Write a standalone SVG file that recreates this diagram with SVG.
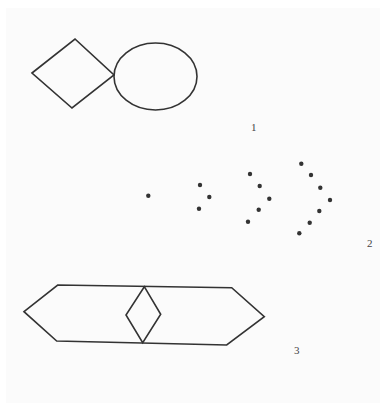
<svg xmlns="http://www.w3.org/2000/svg" width="380" height="412" viewBox="0 0 380 412">
  <style>
    .shape { fill: none; stroke: #333; stroke-width: 1.6; stroke-linejoin: miter; }
    .dot { fill: #333; }
    .label { font-family: "Liberation Serif", serif; font-size: 11px; fill: #444; }
  </style>
  <rect x="0" y="0" width="380" height="412" fill="#ffffff"/>
  <rect x="6" y="8" width="374" height="395" fill="#fbfbfb"/>
  <g id="figure1">
    <polygon class="shape" points="32,73 75,39 114,75 72,108"/>
    <ellipse class="shape" cx="155.5" cy="76.5" rx="41.5" ry="33.5"/>
    <text class="label" x="251" y="131">1</text>
  </g>
  <g id="figure2">
    <circle class="dot" cx="148.3" cy="195.7" r="2.2"/>
    <circle class="dot" cx="200" cy="185" r="2.2"/>
    <circle class="dot" cx="209.3" cy="197" r="2.2"/>
    <circle class="dot" cx="199" cy="208.7" r="2.2"/>
    <circle class="dot" cx="250" cy="174" r="2.2"/>
    <circle class="dot" cx="259.7" cy="186" r="2.2"/>
    <circle class="dot" cx="269.3" cy="198.7" r="2.2"/>
    <circle class="dot" cx="258.7" cy="209.7" r="2.2"/>
    <circle class="dot" cx="248" cy="221.7" r="2.2"/>
    <circle class="dot" cx="301.3" cy="163.7" r="2.2"/>
    <circle class="dot" cx="311" cy="175" r="2.2"/>
    <circle class="dot" cx="320.3" cy="187.7" r="2.2"/>
    <circle class="dot" cx="330" cy="200" r="2.2"/>
    <circle class="dot" cx="319.3" cy="211" r="2.2"/>
    <circle class="dot" cx="309.7" cy="222.7" r="2.2"/>
    <circle class="dot" cx="299.3" cy="233.3" r="2.2"/>
    <text class="label" x="367" y="247">2</text>
  </g>
  <g id="figure3">
    <polygon class="shape" points="24,311.7 57.7,285 231.7,287.7 264.3,316.7 226.7,345 56.7,341"/>
    <polygon class="shape" points="144.3,286.7 160.7,314.3 142.7,342.7 126,315"/>
    <text class="label" x="294" y="354">3</text>
  </g>
</svg>
